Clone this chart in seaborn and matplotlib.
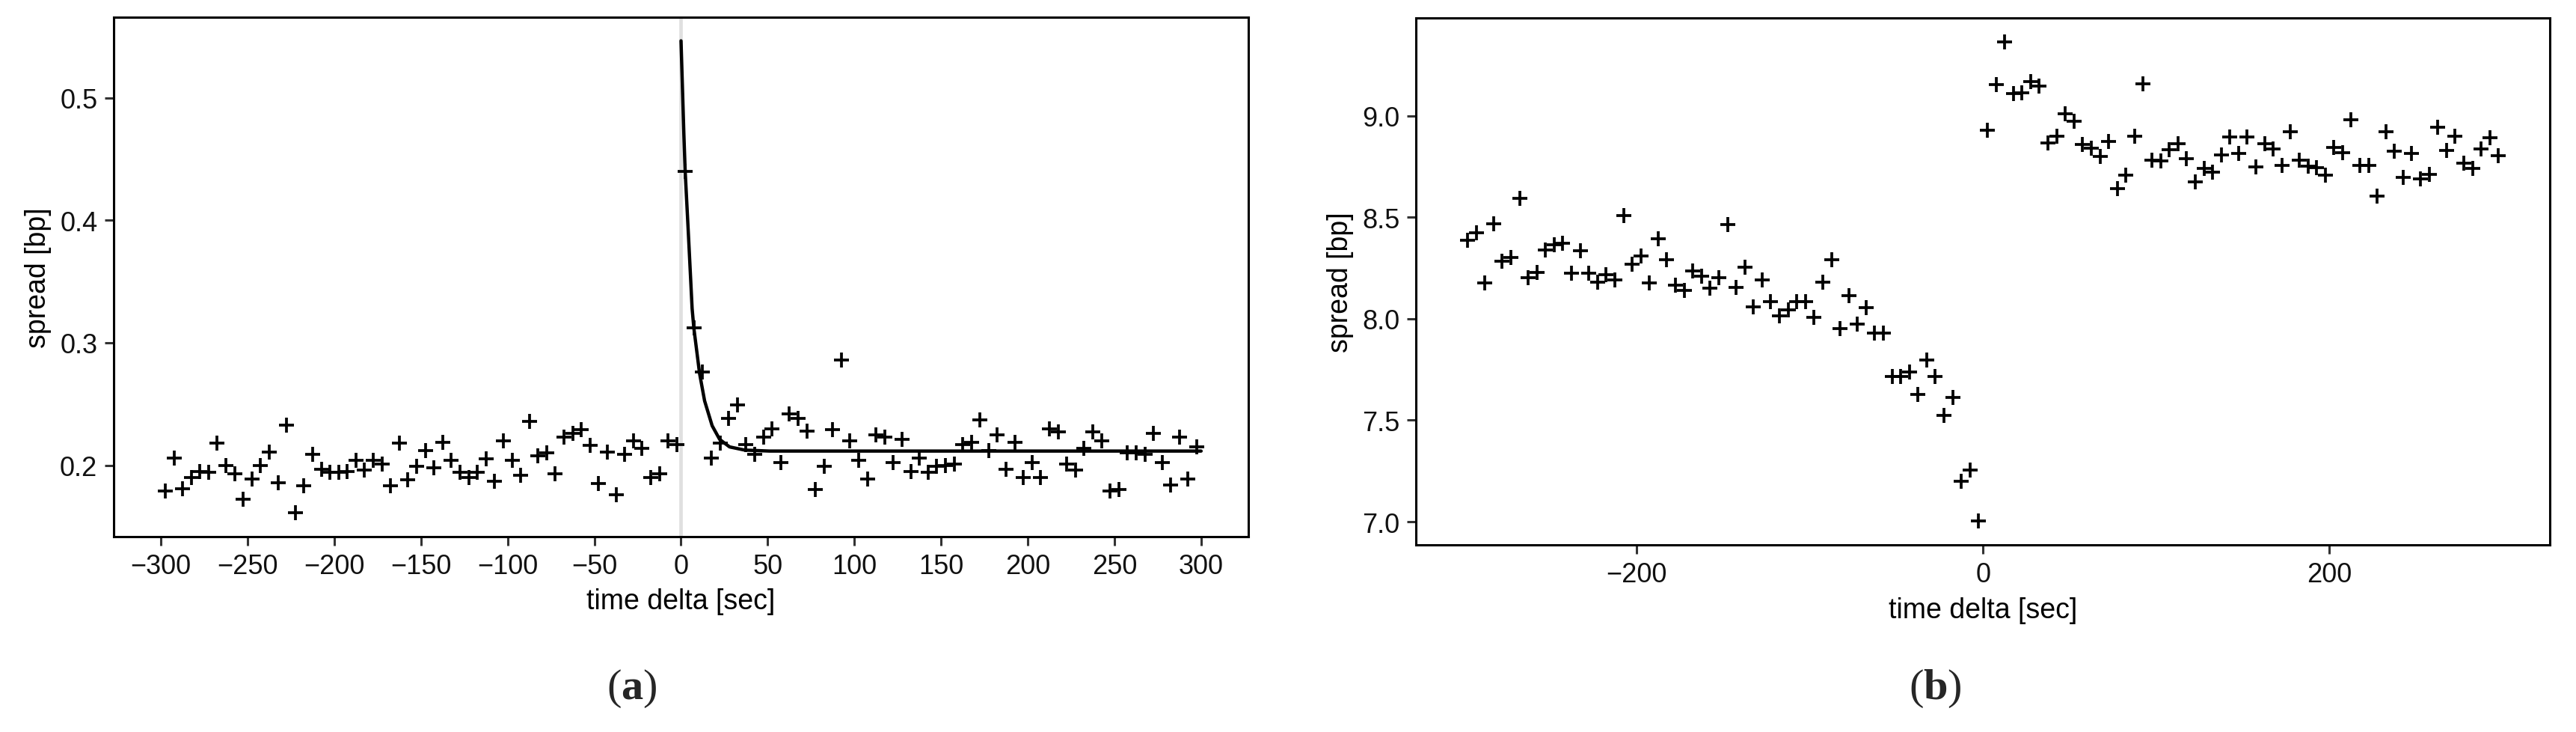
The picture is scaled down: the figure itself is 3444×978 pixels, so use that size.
import numpy as np
import pandas as pd
import matplotlib
matplotlib.use("Agg")
import matplotlib.pyplot as plt
import seaborn as sns

# centres of the 5 second bins, shared by both panels
time_bins = [-297.5, -292.5, -287.5, -282.5, -277.5, -272.5, -267.5, -262.5, -257.5, -252.5,
             -247.5, -242.5, -237.5, -232.5, -227.5, -222.5, -217.5, -212.5, -207.5, -202.5,
             -197.5, -192.5, -187.5, -182.5, -177.5, -172.5, -167.5, -162.5, -157.5, -152.5,
             -147.5, -142.5, -137.5, -132.5, -127.5, -122.5, -117.5, -112.5, -107.5, -102.5,
             -97.5, -92.5, -87.5, -82.5, -77.5, -72.5, -67.5, -62.5, -57.5, -52.5,
             -47.5, -42.5, -37.5, -32.5, -27.5, -22.5, -17.5, -12.5, -7.5, -2.5,
             2.5, 7.5, 12.5, 17.5, 22.5, 27.5, 32.5, 37.5, 42.5, 47.5,
             52.5, 57.5, 62.5, 67.5, 72.5, 77.5, 82.5, 87.5, 92.5, 97.5,
             102.5, 107.5, 112.5, 117.5, 122.5, 127.5, 132.5, 137.5, 142.5, 147.5,
             152.5, 157.5, 162.5, 167.5, 172.5, 177.5, 182.5, 187.5, 192.5, 197.5,
             202.5, 207.5, 212.5, 217.5, 222.5, 227.5, 232.5, 237.5, 242.5, 247.5,
             252.5, 257.5, 262.5, 267.5, 272.5, 277.5, 282.5, 287.5, 292.5, 297.5]

# panel (a)
spread_a = [0.179, 0.206, 0.181, 0.190, 0.195, 0.194, 0.218, 0.200, 0.193, 0.172,
            0.189, 0.200, 0.211, 0.186, 0.233, 0.161, 0.183, 0.209, 0.197, 0.194,
            0.194, 0.195, 0.204, 0.196, 0.204, 0.201, 0.183, 0.218, 0.188, 0.199,
            0.212, 0.198, 0.219, 0.204, 0.194, 0.190, 0.194, 0.205, 0.187, 0.220,
            0.204, 0.192, 0.236, 0.208, 0.210, 0.193, 0.223, 0.226, 0.229, 0.216,
            0.185, 0.211, 0.176, 0.209, 0.220, 0.214, 0.190, 0.193, 0.220, 0.217,
            0.440, 0.312, 0.276, 0.206, 0.218, 0.238, 0.249, 0.217, 0.209, 0.223,
            0.230, 0.202, 0.242, 0.238, 0.228, 0.180, 0.199, 0.229, 0.286, 0.220,
            0.204, 0.189, 0.225, 0.223, 0.202, 0.221, 0.195, 0.206, 0.194, 0.199,
            0.200, 0.201, 0.217, 0.219, 0.237, 0.212, 0.225, 0.197, 0.219, 0.190,
            0.202, 0.190, 0.230, 0.227, 0.201, 0.196, 0.214, 0.227, 0.220, 0.179,
            0.180, 0.210, 0.210, 0.209, 0.226, 0.202, 0.184, 0.223, 0.189, 0.215]

# fitted decay curve
fit_time = [0, 1.65, 2.4, 4.25, 6.4, 7.4, 10.7, 13.6, 17.95, 22.3, 28, 36.7, 51, 300]
fit_spread = [0.5465, 0.470, 0.440, 0.389, 0.328, 0.312, 0.275, 0.2526, 0.2323, 0.2211,
              0.215, 0.2124, 0.2116, 0.2116]

# panel (b)
spread_b = [8.386, 8.423, 8.175, 8.467, 8.285, 8.302, 8.592, 8.204, 8.229, 8.339,
            8.366, 8.373, 8.226, 8.336, 8.226, 8.181, 8.218, 8.192, 8.508, 8.268,
            8.311, 8.175, 8.395, 8.290, 8.167, 8.138, 8.235, 8.209, 8.150, 8.201,
            8.465, 8.153, 8.255, 8.058, 8.192, 8.083, 8.015, 8.044, 8.083, 8.083,
            8.007, 8.181, 8.289, 7.951, 8.113, 7.973, 8.054, 7.931, 7.931, 7.717,
            7.717, 7.737, 7.628, 7.796, 7.717, 7.523, 7.611, 7.201, 7.253, 7.004,
            8.929, 9.153, 9.364, 9.111, 9.114, 9.167, 9.145, 8.867, 8.900, 9.010,
            8.973, 8.858, 8.841, 8.799, 8.872, 8.642, 8.706, 8.900, 9.156, 8.782,
            8.777, 8.833, 8.862, 8.787, 8.676, 8.740, 8.723, 8.808, 8.897, 8.816,
            8.897, 8.749, 8.862, 8.838, 8.757, 8.922, 8.782, 8.752, 8.744, 8.706,
            8.845, 8.819, 8.979, 8.754, 8.754, 8.605, 8.922, 8.824, 8.698, 8.813,
            8.690, 8.710, 8.942, 8.828, 8.900, 8.765, 8.740, 8.838, 8.892, 8.804]

ticks_a_x = [-300, -250, -200, -150, -100, -50, 0, 50, 100, 150, 200, 250, 300]
ticks_a_y = [0.2, 0.3, 0.4, 0.5]
ticks_b_x = [-200, 0, 200]
ticks_b_y = [7.0, 7.5, 8.0, 8.5, 9.0]

sns.set_style("ticks")
plt.rcParams["font.family"] = ["Liberation Sans", "DejaVu Sans"]
plt.rcParams["mathtext.fontset"] = "custom"
plt.rcParams["mathtext.rm"] = "Liberation Serif"
plt.rcParams["mathtext.bf"] = "Liberation Serif:bold"

df_a = pd.DataFrame({"time": time_bins, "spread": spread_a})
df_b = pd.DataFrame({"time": time_bins, "spread": spread_b})
df_fit = pd.DataFrame({"time": fit_time, "spread": fit_spread})


def expand(lo, hi, frac=0.05):
    pad = (hi - lo) * frac
    return lo - pad, hi + pad


def style_axes(ax):
    for sp in ax.spines.values():
        sp.set_visible(True)
        sp.set_color("black")
        sp.set_linewidth(2.2)
    ax.tick_params(axis="both", which="major", direction="out", length=8.6, width=2.2,
                   color="#333333", labelsize=26, labelcolor="#111111", pad=7,
                   top=False, right=False)
    ax.grid(False)


fig = plt.figure(figsize=(34.44, 9.79), dpi=100)
ax1 = fig.add_axes([0.04413, 0.2666, 0.44048, 0.7089])
ax2 = fig.add_axes([0.5497, 0.2554, 0.4402, 0.7191])

# (a)
ax1.axvline(0, color="#e0e0e0", lw=3.4, zorder=0)
sns.scatterplot(data=df_a, x="time", y="spread", marker="+", s=210, color="black",
                linewidth=2.7, ax=ax1, zorder=2)
sns.lineplot(data=df_fit, x="time", y="spread", color="black", lw=3.2, sort=False,
             ax=ax1, zorder=3)
ax1.set_xlim(*expand(min(time_bins), max(time_bins)))
ax1.set_ylim(*expand(min(spread_a + fit_spread), max(spread_a + fit_spread)))
ax1.set_xticks(ticks_a_x)
ax1.set_yticks(ticks_a_y)
ax1.set_yticklabels([f"{v:.1f}" for v in ticks_a_y])

# (b)
sns.scatterplot(data=df_b, x="time", y="spread", marker="+", s=210, color="black",
                linewidth=2.7, ax=ax2, zorder=2)
ax2.set_xlim(*expand(min(time_bins), max(time_bins)))
ax2.set_ylim(*expand(min(spread_b), max(spread_b)))
ax2.set_xticks(ticks_b_x)
ax2.set_yticks(ticks_b_y)
ax2.set_yticklabels([f"{v:.1f}" for v in ticks_b_y])

for ax, ylab_y in ((ax1, -0.1239), (ax2, -0.1236)):
    style_axes(ax)
    ax.set_xlabel("time delta [sec]", fontsize=27, color="black")
    ax.set_ylabel("spread [bp]", fontsize=27, color="black")
    ax.xaxis.set_label_coords(0.5, ylab_y)
    ax.xaxis.label.set_verticalalignment("center")
    ax.yaxis.set_label_coords(-0.0666, 0.5)
    ax.yaxis.label.set_verticalalignment("center")

fig.text(0.2454, 0.0603, r"($\mathbf{a}$)", ha="center", va="center", fontsize=42,
         family="Liberation Serif")
fig.text(0.7512, 0.0603, r"($\mathbf{b}$)", ha="center", va="center", fontsize=42,
         family="Liberation Serif")

fig.savefig("out.png", dpi=100)
